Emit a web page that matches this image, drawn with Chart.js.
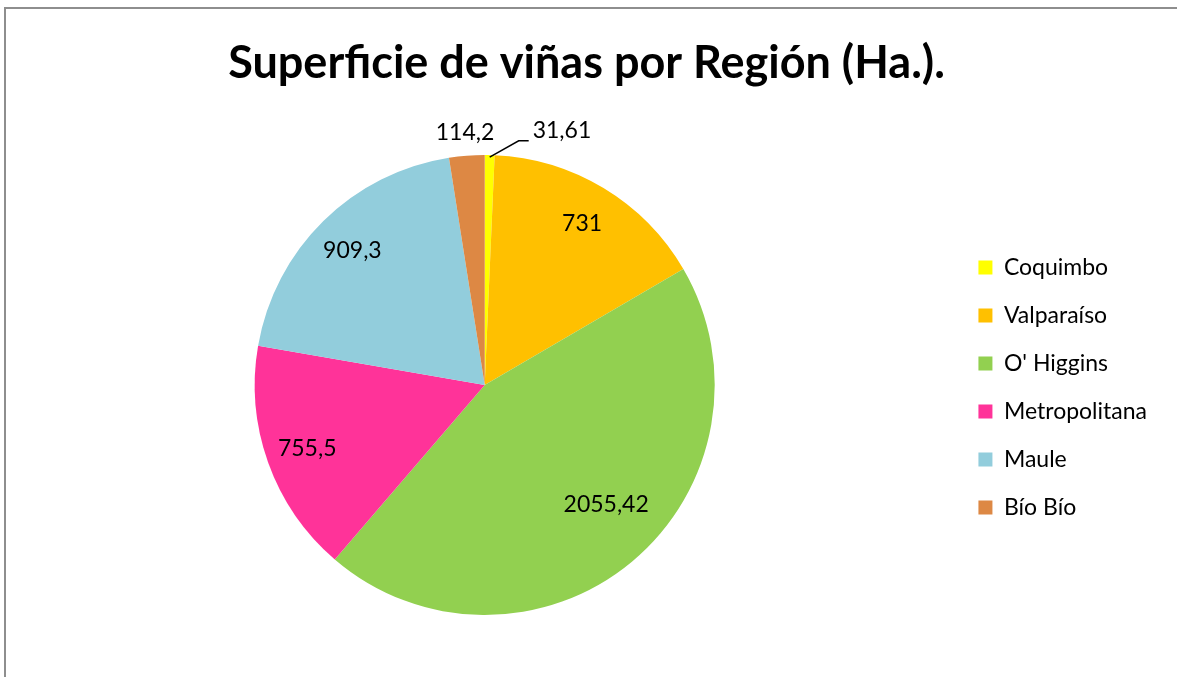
<!DOCTYPE html>
<html>
<head>
<meta charset="utf-8">
<script src="https://cdn.jsdelivr.net/npm/chart.js@4/dist/chart.umd.min.js"></script>
<style>
  body { margin: 0; background: #fff; overflow: hidden; }
  #frame { position: absolute; left: 4px; top: 7px; width: 1300px; height: 800px;
           border-top: 2px solid #8e8e8e; border-left: 2px solid #8e8e8e; }
  #wrap { position: absolute; left: 0; top: 0; width: 1177px; height: 677px; }
</style>
</head>
<body>
<div id="frame"></div>
<div id="wrap"><canvas id="myChart"></canvas></div>
<script>
const regions = ['Coquimbo', 'Valparaíso', "O' Higgins", 'Metropolitana', 'Maule', 'Bío Bío'];
const hectares = [31.61, 731, 2055.42, 755.5, 909.3, 114.2];
const colors = ['#FFFF00', '#FFC000', '#92D050', '#FF3399', '#92CDDC', '#DD8844'];

const fmt = (v) => v.toString().replace('.', ',');

// draws the value labels the way Excel placed them
const valueLabels = {
    id: 'valueLabels',
    afterDatasetsDraw(chart) {
        const ctx = chart.ctx;
        const meta = chart.getDatasetMeta(0);
        const total = hectares.reduce((a, b) => a + b, 0);
        ctx.save();
        ctx.font = '23px Lato';
        ctx.fillStyle = '#000';
        ctx.textBaseline = 'middle';
        meta.data.forEach((arc, i) => {
            const frac = hectares[i] / total;
            const mid = (arc.startAngle + arc.endAngle) / 2;
            const R = arc.outerRadius;
            const text = fmt(hectares[i]);
            if (frac < 0.01) {
                // tiny slice: label to the right with leader line
                const sx = arc.x + Math.cos(mid) * R;
                const sy = arc.y + Math.sin(mid) * R;
                const ky = arc.y - R * 1.105;
                ctx.strokeStyle = '#000';
                ctx.lineWidth = 1.5;
                ctx.beginPath();
                ctx.moveTo(sx, sy + 2);
                ctx.lineTo(sx + 29, ky + 10);
                ctx.lineTo(sx + 39, ky + 10);
                ctx.stroke();
                ctx.textAlign = 'left';
                ctx.fillText(text, sx + 43, ky);
            } else if (frac < 0.05) {
                ctx.textAlign = 'center';
                ctx.fillText(text, arc.x + Math.cos(mid) * R * 1.1, arc.y + Math.sin(mid) * R * 1.1);
            } else {
                const r = i === 2 ? 0.74 : 0.82;
                const a = i === 2 ? mid - 0.1 : mid;
                ctx.textAlign = 'center';
                ctx.fillText(text, arc.x + Math.cos(a) * R * r, arc.y + Math.sin(a) * R * r);
            }
        });
        ctx.restore();
    }
};

new Chart(document.getElementById('myChart'), {
    type: 'pie',
    data: {
        labels: regions,
        datasets: [{
            data: hectares,
            backgroundColor: colors,
            borderWidth: 0
        }]
    },
    options: {
        responsive: true,
        maintainAspectRatio: false,
        animation: false,
        layout: { padding: { left: 16, right: 20, top: 0, bottom: 62 } },
        plugins: {
            title: {
                display: true,
                text: 'Superficie de viñas por Región (Ha.).',
                color: '#000',
                font: { family: 'Lato', size: 45, weight: 'bold' },
                padding: { top: 36, bottom: 65 }
            },
            legend: {
                position: 'right',
                title: {
                    display: true,
                    text: ' ',
                    font: { size: 10 },
                    padding: { top: 0, bottom: 148 }
                },
                labels: {
                    boxWidth: 14,
                    boxHeight: 14,
                    padding: 25,
                    color: '#000',
                    font: { family: 'Lato', size: 23 }
                }
            },
            tooltip: { enabled: false }
        }
    },
    plugins: [valueLabels]
});
</script>
</body>
</html>
